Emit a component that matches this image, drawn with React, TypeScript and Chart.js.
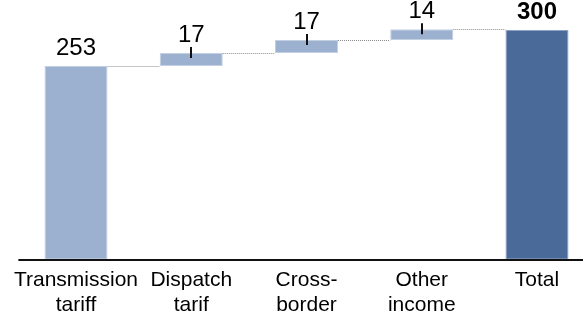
import React, { useEffect, useRef } from "react";
import { Chart, registerables } from "chart.js";

Chart.register(...registerables);

// Revenue bridge: starting tariff, incremental items, resulting total
const categories: string[][] = [
  ["Transmission", "tariff"],
  ["Dispatch", "tarif"],
  ["Cross-", "border"],
  ["Other", "income"],
  ["Total"],
];
const startValue = 253;
const increments = [17, 17, 14];
const totalValue = 300;
const valueLabels = ["253", "17", "17", "14", "300"];

const LIGHT = "#9cb0d0";
const LIGHT_EDGE = "#c3cfe3";
const DARK = "#4a6a9a";
const DARK_EDGE = "#8ea2c3";
const FONT = '"Liberation Sans", Arial, Helvetica, sans-serif';

function buildRanges(): [number, number][] {
  const ranges: [number, number][] = [[0, startValue]];
  let run = startValue;
  for (const inc of increments) {
    ranges.push([run, run + inc]);
    run += inc;
  }
  ranges.push([0, totalValue]);
  return ranges;
}

const bridgePlugin = {
  id: "bridgeDecorations",
  afterDatasetsDraw(chart: any) {
    const { ctx, chartArea, scales } = chart;
    const yScale = scales.y;
    const meta = chart.getDatasetMeta(0);
    const ranges: [number, number][] = chart.data.datasets[0].data;
    const bars = meta.data;
    const spacing = bars.length > 1 ? bars[1].x - bars[0].x : 100;
    ctx.save();

    // dotted connectors between consecutive bars
    ctx.strokeStyle = "#8c8c8c";
    ctx.lineWidth = 1;
    ctx.setLineDash([1, 1]);
    for (let i = 0; i < bars.length - 1; i++) {
      const a = bars[i];
      const b = bars[i + 1];
      const y = Math.round(yScale.getPixelForValue(ranges[i][1])) + 0.5;
      ctx.beginPath();
      ctx.moveTo(a.x + a.width / 2, y);
      ctx.lineTo(b.x - b.width / 2, y);
      ctx.stroke();
    }
    ctx.setLineDash([]);

    // baseline
    ctx.strokeStyle = "#111";
    ctx.lineWidth = 2;
    const baseY = Math.round(yScale.getPixelForValue(0));
    ctx.beginPath();
    ctx.moveTo(chartArea.left - spacing / 2, baseY);
    ctx.lineTo(chart.width - 1, baseY);
    ctx.stroke();

    // value labels and tick markers on increments
    ctx.fillStyle = "#000";
    ctx.textAlign = "center";
    ctx.textBaseline = "alphabetic";
    bars.forEach((bar: any, i: number) => {
      const top = bar.y;
      const isTotal = i === bars.length - 1;
      const isIncrement = i > 0 && !isTotal;
      if (isIncrement) {
        ctx.strokeStyle = "#111";
        ctx.lineWidth = 2;
        ctx.beginPath();
        ctx.moveTo(Math.round(bar.x), top - 6);
        ctx.lineTo(Math.round(bar.x), top + 5);
        ctx.stroke();
      }
      ctx.font = `${isTotal ? "bold " : ""}24px ${FONT}`;
      ctx.fillText(valueLabels[i], bar.x, top - 11);
    });
    ctx.restore();
  },
};

export default function App() {
  const canvasRef = useRef<HTMLCanvasElement | null>(null);

  useEffect(() => {
    if (!canvasRef.current) return;
    const ranges = buildRanges();
    const n = ranges.length;
    const chart = new Chart(canvasRef.current, {
      type: "bar",
      data: {
        labels: categories,
        datasets: [
          {
            data: ranges as any,
            backgroundColor: ranges.map((_, i) => (i === n - 1 ? DARK : LIGHT)),
            borderColor: ranges.map((_, i) => (i === n - 1 ? DARK_EDGE : LIGHT_EDGE)),
            borderWidth: 1,
            borderSkipped: false,
            barPercentage: 0.547,
            categoryPercentage: 1,
            clip: false as any,
          },
        ],
      },
      options: {
        animation: false,
        responsive: false,
        maintainAspectRatio: false,
        layout: { padding: { left: 76, right: 47, top: 30, bottom: 0 } },
        plugins: {
          legend: { display: false },
          tooltip: { enabled: false },
        },
        scales: {
          x: {
            offset: false,
            grid: { display: false, drawTicks: false },
            border: { display: false },
            ticks: {
              autoSkip: false,
              maxRotation: 0,
              padding: 8,
              color: "#000",
              font: { family: FONT, size: 21, lineHeight: 1.17 },
            },
          },
          y: {
            display: false,
            min: 0,
            max: totalValue,
          },
        },
      },
      plugins: [bridgePlugin],
    });
    return () => chart.destroy();
  }, []);

  return (
    <div style={{ position: "fixed", left: 0, top: 0, width: 584, height: 325, background: "#fff" }}>
      <canvas ref={canvasRef} width={584} height={325} style={{ display: "block" }} />
    </div>
  );
}
